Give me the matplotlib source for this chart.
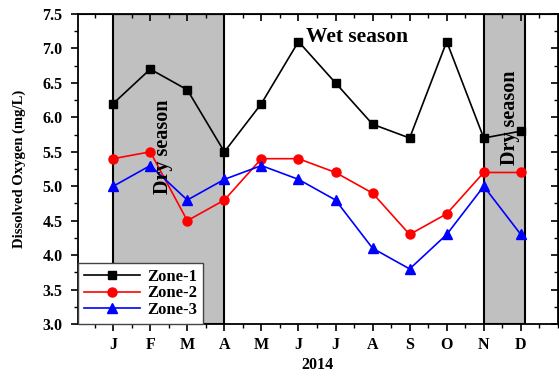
import matplotlib
matplotlib.use("Agg")
import matplotlib.pyplot as plt
from matplotlib.ticker import MultipleLocator, FormatStrFormatter

months = ["J", "F", "M", "A", "M", "J", "J", "A", "S", "O", "N", "D"]
zone1 = [6.2, 6.7, 6.4, 5.5, 6.2, 7.1, 6.5, 5.9, 5.7, 7.1, 5.7, 5.8]
zone2 = [5.4, 5.5, 4.5, 4.8, 5.4, 5.4, 5.2, 4.9, 4.3, 4.6, 5.2, 5.2]
zone3 = [5.0, 5.3, 4.8, 5.1, 5.3, 5.1, 4.8, 4.1, 3.8, 4.3, 5.0, 4.3]
x = list(range(1, len(months) + 1))

plt.rcParams["font.family"] = ["Liberation Serif", "DejaVu Serif"]
plt.rcParams["font.weight"] = "bold"

fig = plt.figure(figsize=(5.59, 3.79), dpi=100)
ax = fig.add_axes([0.1395, 0.145, 0.8585, 0.818])

# dry-season bands
for x0, x1 in [(1, 4), (11, 12.1)]:
    ax.axvspan(x0, x1, facecolor="#c0c0c0", edgecolor="black", linewidth=1.5, zorder=0)

ax.plot(x, zone1, color="black", marker="s", markersize=6, linewidth=1.2, label="Zone-1")
ax.plot(x, zone2, color="red", marker="o", markersize=6.5, linewidth=1.2, label="Zone-2")
ax.plot(x, zone3, color="blue", marker="^", markersize=7, linewidth=1.2, label="Zone-3")

ax.set_xlim(0.05, 13.0)
ax.set_ylim(3.0, 7.5)
ax.set_xticks(x)
ax.set_xticklabels(months, fontsize=11.5, fontweight="bold")
ax.xaxis.set_minor_locator(MultipleLocator(0.5))
ax.yaxis.set_major_locator(MultipleLocator(0.5))
ax.yaxis.set_minor_locator(MultipleLocator(0.25))
ax.yaxis.set_major_formatter(FormatStrFormatter("%.1f"))
for lab in ax.get_yticklabels():
    lab.set_fontsize(11.5)
    lab.set_fontweight("bold")

ax.tick_params(which="major", direction="out", length=5, width=1.2, pad=4)
ax.tick_params(axis="y", which="major", pad=6)
ax.tick_params(which="minor", direction="out", length=3, width=1.0)
for s in ax.spines.values():
    s.set_linewidth(1.3)

# mirrored inward ticks on top and right
top = ax.secondary_xaxis("top")
top.set_xticks(x)
top.xaxis.set_minor_locator(MultipleLocator(0.5))
top.tick_params(which="major", direction="in", length=5, width=1.2, labeltop=False)
top.tick_params(which="minor", direction="in", length=3, width=1.0)
right = ax.secondary_yaxis("right")
right.yaxis.set_major_locator(MultipleLocator(0.5))
right.yaxis.set_minor_locator(MultipleLocator(0.25))
right.tick_params(which="major", direction="in", length=5, width=1.2, labelright=False)
right.tick_params(which="minor", direction="in", length=3, width=1.0)

ax.set_xlabel("2014", fontsize=11.5, fontweight="bold", labelpad=3)
ax.set_ylabel("Dissolved Oxygen (mg/L)", fontsize=10.5, fontweight="bold", labelpad=12)

ax.text(2.35, 5.57, "Dry season", rotation=90, fontsize=14.5, fontweight="bold",
        ha="center", va="center")
ax.text(11.7, 6.0, "Dry season", rotation=90, fontsize=14.5, fontweight="bold",
        ha="center", va="center")
ax.text(6.2, 7.17, "Wet season", fontsize=15.5, fontweight="bold", ha="left", va="center")

leg = ax.legend(loc="lower left", borderaxespad=0, fontsize=12, frameon=True,
                fancybox=False, framealpha=1, edgecolor="#444444",
                handlelength=3.4, handletextpad=0.4, labelspacing=0.05,
                borderpad=0.35)
leg.get_frame().set_linewidth(1.0)
for t in leg.get_texts():
    t.set_fontweight("bold")

fig.savefig("out.png", dpi=100)
